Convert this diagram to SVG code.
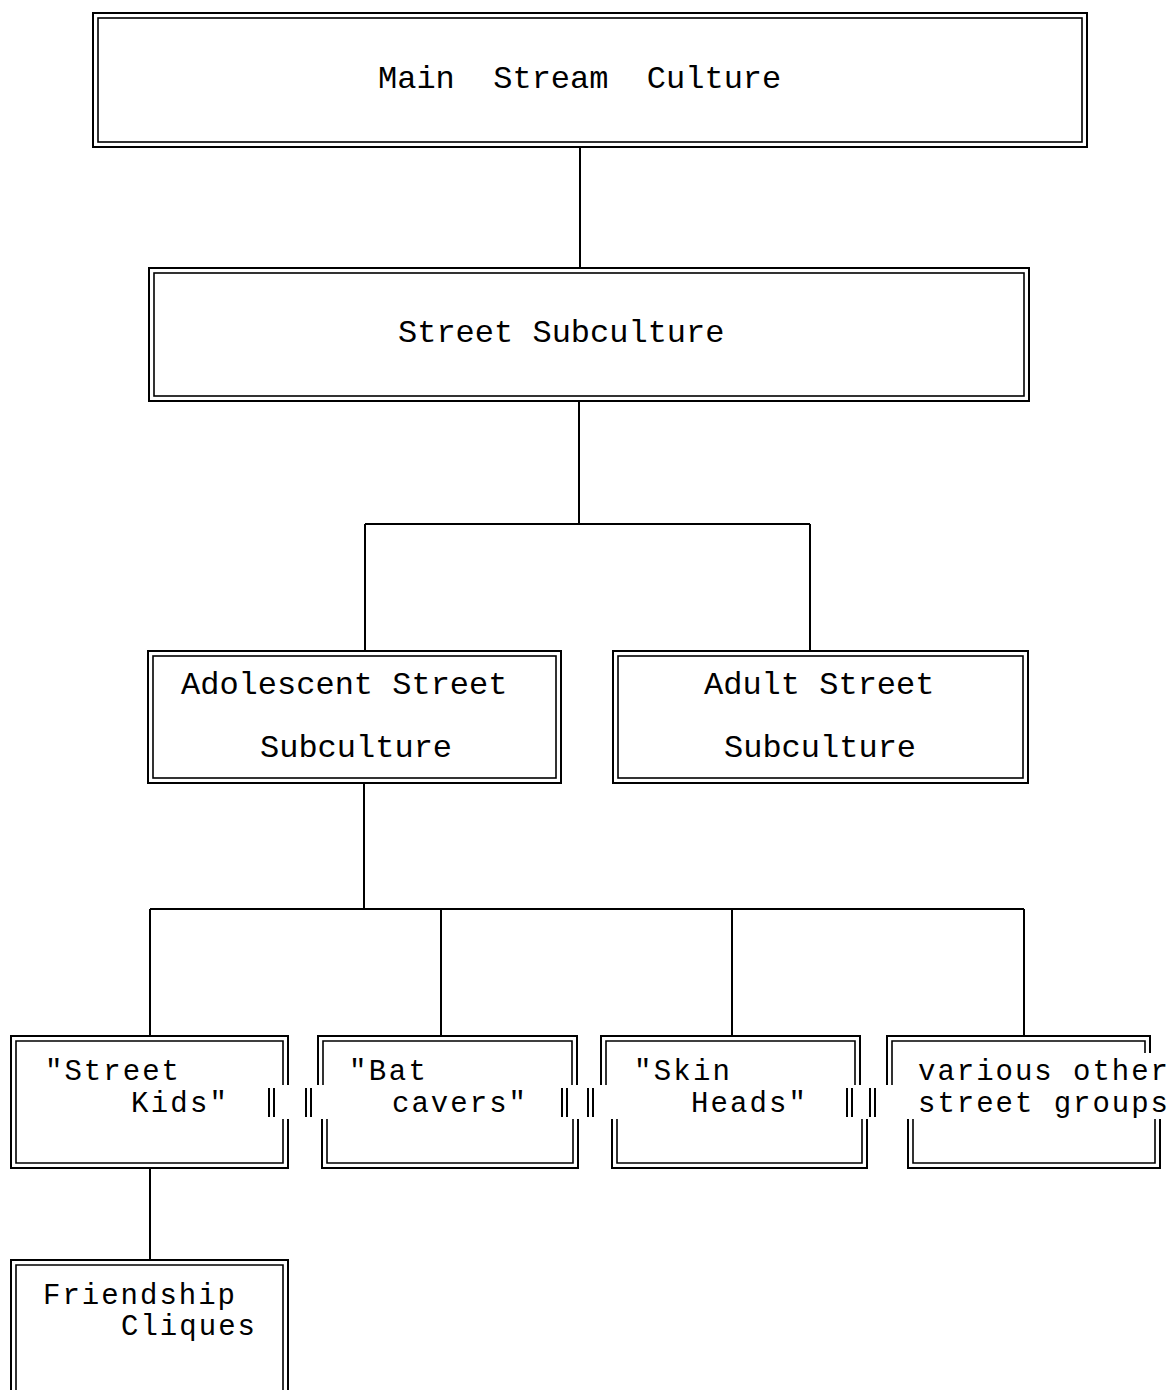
<svg xmlns="http://www.w3.org/2000/svg" width="1174" height="1390" viewBox="0 0 1174 1390">
<style>
.o{fill:none;stroke:#000;stroke-width:2}
.i{fill:none;stroke:#000;stroke-width:1.6}
.c{fill:none;stroke:#000;stroke-width:2}
text{font-family:"Liberation Mono","Courier New",monospace;font-size:32px;fill:#000}
text.s{font-size:29px}
</style>
<rect width="1174" height="1390" fill="#fff"/>
<g id="connectors">
<path class="c" d="M580 147V268"/>
<path class="c" d="M579 401V524M365 524H810M365 524V652M810 524V652"/>
<path class="c" d="M364 783V909M150 909H1024M150 909V1036M441 909V1036M732 909V1036M1024 909V1036"/>
<path class="c" d="M150 1168V1260"/>
</g>
<g id="main">
<rect class="o" x="93" y="13" width="994" height="134"/>
<rect class="i" x="98" y="18" width="984" height="124"/>
<text x="378" y="88" xml:space="preserve">Main  Stream  Culture</text>
</g>
<g id="street">
<rect class="o" x="149" y="268" width="880" height="133"/>
<rect class="i" x="154" y="273" width="870" height="123"/>
<text x="398" y="342">Street Subculture</text>
</g>
<g id="adolescent">
<rect class="o" x="148" y="651" width="413" height="132"/>
<rect class="i" x="153" y="656" width="403" height="122"/>
<text x="181" y="694">Adolescent Street</text>
<text x="260" y="757">Subculture</text>
</g>
<g id="adult">
<rect class="o" x="613" y="651" width="415" height="132"/>
<rect class="i" x="618" y="656" width="405" height="122"/>
<text x="704" y="694">Adult Street</text>
<text x="724" y="757">Subculture</text>
</g>
<g id="streetkids">
<path class="o" d="M288 1085V1036H11V1168H288V1119"/>
<path class="i" d="M283 1085V1041H16V1163H283V1119"/>
<path class="o" d="M274 1088V1117M269 1088V1117"/>
<text class="s" x="45" y="1080" textLength="134" lengthAdjust="spacing">"Street</text>
<text class="s" x="131" y="1112" textLength="96" lengthAdjust="spacing">Kids"</text>
</g>
<g id="batcavers">
<path class="o" d="M318 1085V1036H577V1085M322 1119V1168H578V1119"/>
<path class="i" d="M323 1085V1041H572V1085M327 1119V1163H573V1119"/>
<path class="o" d="M306 1088V1117M311 1088V1117M562 1088V1117M567 1088V1117"/>
<text class="s" x="349" y="1080" textLength="77" lengthAdjust="spacing">"Bat</text>
<text class="s" x="392" y="1112" textLength="134" lengthAdjust="spacing">cavers"</text>
</g>
<g id="skinheads">
<path class="o" d="M601 1085V1036H860V1085M612 1119V1168H867V1119"/>
<path class="i" d="M606 1085V1041H855V1085M617 1119V1163H862V1119"/>
<path class="o" d="M588 1088V1117M593 1088V1117M847 1088V1117M852 1088V1117"/>
<text class="s" x="634" y="1080" textLength="96" lengthAdjust="spacing">"Skin</text>
<text class="s" x="691" y="1112" textLength="115" lengthAdjust="spacing">Heads"</text>
</g>
<g id="various">
<path class="o" d="M887 1085V1036H1150V1053M908 1119V1168H1160V1119"/>
<path class="i" d="M892 1085V1041H1145V1053M913 1119V1163H1155V1119"/>
<path class="o" d="M870 1088V1117M875 1088V1117"/>
<text class="s" x="918" y="1080" textLength="250" lengthAdjust="spacing">various other</text>
<text class="s" x="918" y="1112" textLength="250" lengthAdjust="spacing">street groups</text>
</g>
<g id="friendship">
<path class="o" d="M11 1395V1260H288V1395"/>
<path class="i" d="M16 1395V1265H283V1395"/>
<text class="s" x="43" y="1304" textLength="192" lengthAdjust="spacing">Friendship</text>
<text class="s" x="121" y="1335" textLength="134" lengthAdjust="spacing">Cliques</text>
</g>
</svg>
